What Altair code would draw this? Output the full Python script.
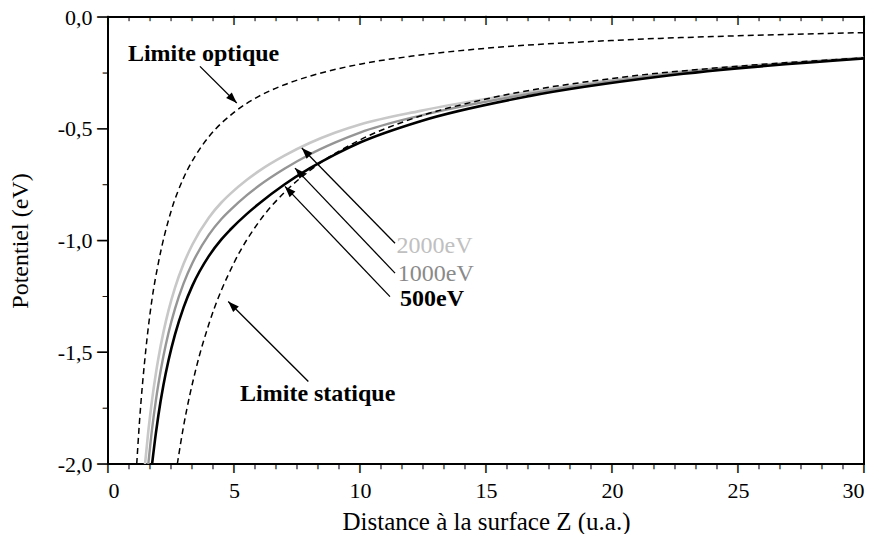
import math
import altair as alt
import pandas as pd

# ---------------- data ----------------
z_optique = [1.14, 1.25, 1.5, 1.75, 2.0, 2.5, 3.0, 3.5, 4.0, 5.0, 6.0, 7.0, 8.0, 10, 12, 15, 20, 25, 30]
v_optique = [-2.0, -1.81, -1.49, -1.26, -1.10, -0.87, -0.72, -0.615, -0.536, -0.427, -0.354, -0.303,
             -0.265, -0.211, -0.176, -0.140, -0.105, -0.084, -0.070]

z_statique = [2.75, 3.0, 3.5, 4.0, 5.0, 6.0, 7.0, 8.0, 10, 12, 15, 20, 25, 30]
v_statique = [-2.0, -1.83, -1.57, -1.375, -1.10, -0.915, -0.785, -0.688, -0.55, -0.458, -0.367,
              -0.275, -0.22, -0.183]

z_500 = [1.75, 1.9, 2.0, 2.2, 2.4, 2.66, 3.0, 3.35, 4.0, 4.5, 4.85, 5.5, 6.0, 7.0, 8.0, 9.0, 10,
         12.4, 16.75, 22, 30]
v_500 = [-2.0, -1.862, -1.782, -1.647, -1.537, -1.42, -1.299, -1.202, -1.07, -0.995, -0.952, -0.882,
         -0.8345, -0.7495, -0.6775, -0.6155, -0.5615, -0.466, -0.353, -0.265, -0.186]

z_1000 = [1.6, 1.75, 1.9, 2.0, 2.2, 2.4, 2.66, 3.0, 3.35, 4.0, 4.5, 4.85, 5.5, 6.0, 7.0, 8.0, 9.0, 10,
          12.4, 16.75, 22, 30]
v_1000 = [-2.0, -1.842, -1.715, -1.642, -1.517, -1.414, -1.305, -1.192, -1.101, -0.975, -0.904, -0.864,
          -0.798, -0.754, -0.679, -0.615, -0.562, -0.517, -0.441, -0.343, -0.259, -0.184]

z_2000 = [1.47, 1.6, 1.75, 1.9, 2.0, 2.2, 2.4, 2.66, 3.0, 3.35, 4.0, 4.5, 4.85, 5.5, 6.0, 7.0, 8.0, 9.0,
          10, 12.4, 16.75, 22, 30]
v_2000 = [-2.0, -1.853, -1.712, -1.595, -1.527, -1.41, -1.314, -1.211, -1.1045, -1.018, -0.898, -0.83,
          -0.7915, -0.7295, -0.6885, -0.6205, -0.564, -0.518, -0.481, -0.42, -0.335, -0.254, -0.182]

# annotation arrows: start (near label) -> tip (on curve)
arrow_names = ["optique", "statique", "2000eV", "1000eV", "500eV"]
arrow_z0 = [3.65, 7.95, 11.39, 11.39, 11.19]
arrow_v0 = [-0.221, -1.631, -1.012, -1.146, -1.251]
arrow_z1 = [5.11, 4.77, 7.69, 7.42, 7.02]
arrow_v1 = [-0.385, -1.273, -0.586, -0.676, -0.758]

# labels
lab_black_text = ["Limite optique", "Limite statique", "500eV"]
lab_black_z = [0.79, 5.24, 11.59]
lab_black_v = [-0.196, -1.72, -1.295]
lab_2000 = ("2000eV", 11.45, -1.056)
lab_1000 = ("1000eV", 11.50, -1.183)

x_major = [0, 5, 10, 15, 20, 25, 30]
x_minor = [k * 5 / 6 for k in range(37) if k % 6 != 0]
y_major = [-2.0, -1.5, -1.0, -0.5, 0.0]
y_minor = [-1.75, -1.25, -0.75, -0.25]

x_title = "Distance à la surface Z (u.a.)"
y_title = "Potentiel (eV)"

# ---------------- chart ----------------
FONT = "Liberation Serif"
W, H = 756, 447
XMIN, XMAX, YMIN, YMAX = 0, 30, -2.0, 0.0
xs = alt.Scale(domain=[XMIN, XMAX], nice=False, zero=False)
ys = alt.Scale(domain=[YMIN, YMAX], nice=False, zero=False)
sx, sy = W / (XMAX - XMIN), H / (YMAX - YMIN)   # pixels per data unit


def df(z, v):
    return pd.DataFrame({"z": z, "v": v})


def line_layer(z, v, color, width, dash=None):
    kw = dict(color=color, strokeWidth=width, interpolate="monotone", clip=True)
    if dash:
        kw["strokeDash"] = dash
    return alt.Chart(df(z, v)).mark_line(**kw).encode(
        x=alt.X("z:Q", scale=xs, axis=None),
        y=alt.Y("v:Q", scale=ys, axis=None),
    )


base = df(z_500, v_500)
ylab = "replace(replace(format(datum.value, '.1f'), '.', ','), '\u2212', '-')"

# axis labels and titles
axis_main = alt.Chart(base).mark_point(opacity=0).encode(
    x=alt.X("z:Q", scale=xs, title=x_title,
            axis=alt.Axis(orient="bottom", values=x_major, format="d", ticks=False,
                          labelPadding=16, titlePadding=8, domain=False)),
    y=alt.Y("v:Q", scale=ys, title=y_title,
            axis=alt.Axis(orient="left", values=y_major, labelExpr=ylab, ticks=False,
                          labelPadding=16, titlePadding=25, domain=False)),
)


# tick marks, drawn as bar glyphs placed on the tick values
def tick_text(xv, yv, size, angle):
    d = pd.DataFrame({"x": xv, "y": yv})
    d["s"] = "|"
    return alt.Chart(d).mark_text(
        font="DejaVu Sans", fontWeight="bold", fontSize=size, angle=angle,
        align="center", baseline="top", color="black", stroke="black", strokeWidth=0.4,
    ).encode(
        x=alt.X("x:Q", scale=xs, axis=None), y=alt.Y("y:Q", scale=ys, axis=None), text="s:N"
    )


tick_layers = [
    tick_text(x_major, [YMIN] * len(x_major), 9, 0),     # bottom, outward
    tick_text(x_minor, [YMIN] * len(x_minor), 5, 0),
    tick_text(x_major, [YMAX] * len(x_major), 8, 0),     # top, inward
    tick_text(x_minor, [YMAX] * len(x_minor), 4, 0),
    tick_text([XMIN] * len(y_major), y_major, 10, 90),   # left, outward
    tick_text([XMIN] * len(y_minor), y_minor, 5, 90),
]

l2000 = line_layer(z_2000, v_2000, "#c8c8c8", 2.6)
l1000 = line_layer(z_1000, v_1000, "#959595", 2.4)
l500 = line_layer(z_500, v_500, "#000000", 2.6)
lstat = line_layer(z_statique, v_statique, "#000000", 1.5, [6, 4])
lopt = line_layer(z_optique, v_optique, "#000000", 1.5, [6, 4])

arr = pd.DataFrame({"name": arrow_names, "z0": arrow_z0, "v0": arrow_v0,
                    "z1": arrow_z1, "v1": arrow_v1})
arr["ang"] = [
    (math.degrees(math.atan2((b - a) * sx, (d - c) * sy)) + 360) % 360
    for a, b, c, d in zip(arr.z0, arr.z1, arr.v0, arr.v1)
]

rules = alt.Chart(arr).mark_rule(color="black", strokeWidth=1.3).encode(
    x=alt.X("z0:Q", scale=xs, axis=None), y=alt.Y("v0:Q", scale=ys, axis=None),
    x2="z1:Q", y2="v1:Q",
)
heads = alt.Chart(arr).mark_point(
    shape="M0,0L0.4,1.1L-0.4,1.1Z", filled=True, size=400, color="black", opacity=1, strokeWidth=0
).encode(
    x=alt.X("z1:Q", scale=xs, axis=None), y=alt.Y("v1:Q", scale=ys, axis=None),
    angle=alt.Angle("ang:Q", scale=None),
)


def text_layer(texts, zs, vs, color, weight):
    d = pd.DataFrame({"t": texts, "z": zs, "v": vs})
    return alt.Chart(d).mark_text(
        align="left", baseline="alphabetic", font=FONT, fontSize=24,
        fontWeight=weight, color=color,
    ).encode(
        x=alt.X("z:Q", scale=xs, axis=None), y=alt.Y("v:Q", scale=ys, axis=None), text="t:N"
    )


t_black = text_layer(lab_black_text, lab_black_z, lab_black_v, "black", "bold")
t_2000 = text_layer([lab_2000[0]], [lab_2000[1]], [lab_2000[2]], "#c0c0c0", "normal")
t_1000 = text_layer([lab_1000[0]], [lab_1000[1]], [lab_1000[2]], "#8a8a8a", "normal")

chart = alt.layer(
    axis_main,
    l2000, l1000, l500, lstat, lopt,
    rules, heads, t_black, t_2000, t_1000,
    *tick_layers,
).resolve_axis(x="independent", y="independent").properties(
    width=W, height=H,
    autosize=alt.AutoSizeParams(type="none"),
    padding={"left": 100, "top": 9, "right": 7, "bottom": 70},
).configure_view(
    stroke="black", strokeWidth=2
).configure_axis(
    grid=False, labelColor="black", titleColor="black",
    labelFont=FONT, titleFont=FONT, labelFontSize=22, titleFontSize=25,
    titleFontWeight="normal",
).configure_axisLeft(titleFontSize=24)

chart.save("out.html", embed_options={"renderer": "svg", "actions": False})
